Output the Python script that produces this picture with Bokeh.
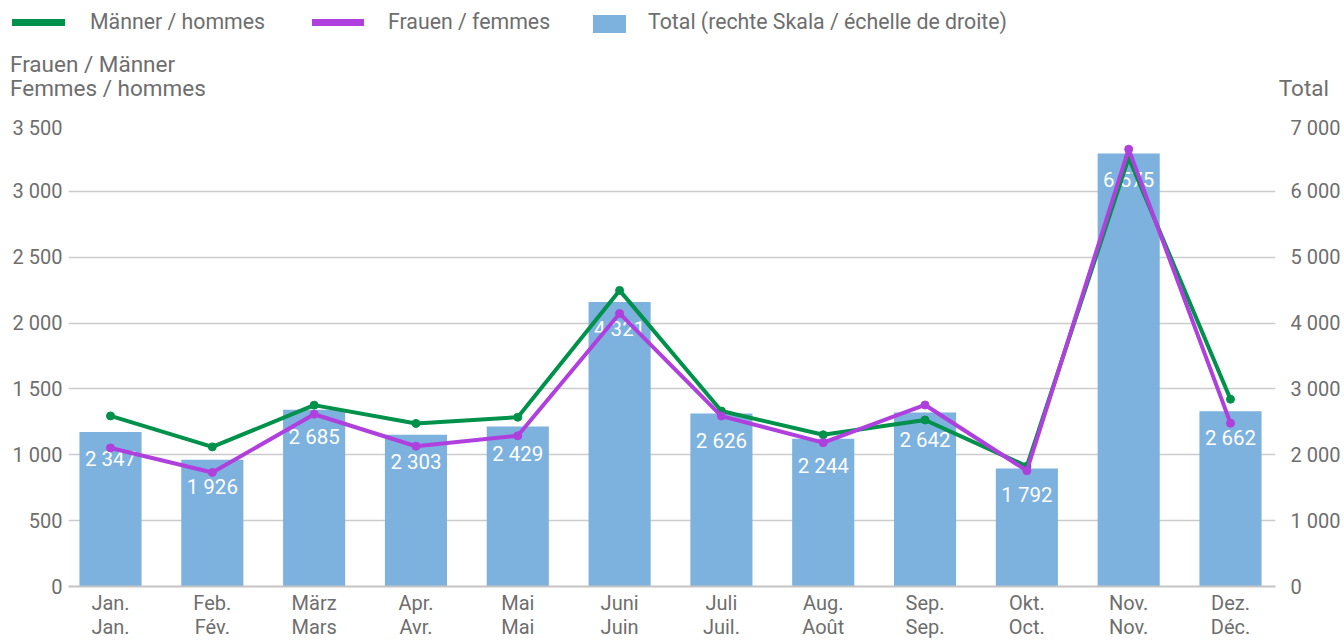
from bokeh.plotting import figure
from bokeh.layouts import column
from bokeh.models import Range1d, LinearAxis, FixedTicker, ColumnDataSource, Div
from bokeh.core.properties import value
from bokeh.embed import file_html
from bokeh.resources import INLINE

# ---- data ----
months_de = ["Jan.", "Feb.", "März", "Apr.", "Mai", "Juni",
             "Juli", "Aug.", "Sep.", "Okt.", "Nov.", "Dez."]
months_fr = ["Jan.", "Fév.", "Mars", "Avr.", "Mai", "Juin",
             "Juil.", "Août", "Sep.", "Oct.", "Nov.", "Déc."]
maenner = [1295, 1060, 1377, 1238, 1285, 2248, 1332, 1152, 1264, 913, 3255, 1422]
frauen = [1052, 866, 1308, 1065, 1144, 2073, 1294, 1092, 1378, 879, 3320, 1240]
total = [2347, 1926, 2685, 2303, 2429, 4321, 2626, 2244, 2642, 1792, 6575, 2662]
left_ticks = [0, 500, 1000, 1500, 2000, 2500, 3000, 3500]
left_tick_labels = ["0", "500", "1 000", "1 500", "2 000", "2 500", "3 000", "3 500"]
right_ticks = [0, 1000, 2000, 3000, 4000, 5000, 6000, 7000]
right_tick_labels = ["0", "1 000", "2 000", "3 000", "4 000", "5 000", "6 000", "7 000"]
legend_labels = ["Männer / hommes", "Frauen / femmes", "Total (rechte Skala / échelle de droite)"]
left_title = ["Frauen / Männer", "Femmes / hommes"]
right_title = "Total"

FONT = "Roboto"
GRAY = "#6e6e6e"
GREEN = "#00914a"
PURPLE = "#b040dd"
BLUE = "#7db1de"

W = 1344
HH = 115            # header height
H = 641 - HH        # main figure height
FL, FR = 68, 1275   # frame left / right (page px)

# ---------------- header (legend + axis titles) ----------------
def txt(s, left=None, right=None, cy=0, size=20):
    pos = f"left:{left}px;" if left is not None else f"right:{right}px;"
    return (f'<span style="position:absolute;{pos}top:{cy-13}px;height:26px;'
            f'line-height:26px;font-size:{size}px;color:{GRAY};white-space:nowrap;">{s}</span>')

def box(left, top, w, h, color):
    return (f'<span style="position:absolute;left:{left}px;top:{top}px;width:{w}px;'
            f'height:{h}px;background:{color};"></span>')

html = (f'<div style="position:relative;width:{W}px;height:{HH}px;margin:0;padding:0;'
        f'font-family:{FONT};">'
        + box(12, 19, 53, 7, GREEN) + txt(legend_labels[0], left=90, cy=22, size=21.3)
        + box(312, 19, 52, 7, PURPLE) + txt(legend_labels[1], left=388, cy=22, size=21.3)
        + box(593, 15, 33, 18, BLUE) + txt(legend_labels[2], left=648, cy=22, size=21.3)
        + txt(left_title[0], left=10, cy=64, size=22.5)
        + txt(left_title[1], left=10, cy=88, size=22.5)
        + txt(right_title, right=15, cy=88, size=22.5)
        + '</div>')
hd = Div(text=html, width=W, height=HH, margin=0)

# ---------------- main chart ----------------
xs = list(range(len(months_de)))
src = ColumnDataSource(dict(
    x=xs, m=maenner, f=frauen, t=total,
    tl=[f"{v:,}".replace(",", " ") for v in total],
))

p = figure(width=W, height=H, output_backend="svg", toolbar_location=None,
           x_range=Range1d(-0.4126, 11.442), y_range=Range1d(0, 3500),
           min_border_left=FL, min_border_right=W - FR, min_border_top=10,
           min_border_bottom=40, margin=0)
p.outline_line_color = None
p.background_fill_color = "white"
p.border_fill_color = "white"
p.extra_y_ranges = {"total": Range1d(0, 7000)}

p.vbar(x="x", top="t", width=0.61, source=src, y_range_name="total",
       fill_color=BLUE, line_color=None)
p.text(x="x", y="t", text="tl", source=src, y_range_name="total",
       text_color="white", text_font=value(FONT), text_font_size="20.5px",
       text_align="center", text_baseline="middle", y_offset=27)

p.line(x="x", y="m", source=src, line_color=GREEN, line_width=4)
p.scatter(x="x", y="m", source=src, size=8, fill_color=GREEN, line_color=GREEN)
p.line(x="x", y="f", source=src, line_color=PURPLE, line_width=4)
p.scatter(x="x", y="f", source=src, size=8, fill_color=PURPLE, line_color=PURPLE)

p.xaxis.ticker = FixedTicker(ticks=xs)
p.xaxis.major_label_overrides = dict(zip(xs, months_de))
p.yaxis.ticker = FixedTicker(ticks=left_ticks)
p.yaxis.major_label_overrides = dict(zip(left_ticks, left_tick_labels))

xa2 = LinearAxis(ticker=FixedTicker(ticks=xs))
xa2.major_label_overrides = dict(zip(xs, months_fr))
p.add_layout(xa2, "below")

ra = LinearAxis(y_range_name="total", ticker=FixedTicker(ticks=right_ticks))
ra.major_label_overrides = dict(zip(right_ticks, right_tick_labels))
p.add_layout(ra, "right")

for ax in [p.xaxis[0], xa2, p.yaxis[0], ra]:
    ax.major_tick_line_color = None
    ax.minor_tick_line_color = None
    ax.major_tick_out = 0
    ax.major_tick_in = 0
    ax.major_label_text_font = FONT
    ax.major_label_text_font_size = "20px"
    ax.major_label_text_color = GRAY
    ax.axis_line_color = None

p.xaxis[0].axis_line_color = "#c4c4c4"
p.xaxis[0].axis_line_width = 2
p.xaxis[0].major_label_standoff = 4
xa2.major_label_standoff = -3
p.yaxis.major_label_standoff = 6
ra.major_label_standoff = 15

p.xgrid.grid_line_color = None
p.ygrid.grid_line_color = "#cccccc"
p.ygrid.grid_line_width = 1.5

layout = column(hd, p, spacing=0, margin=0)
open("out.html", "w").write(file_html(layout, INLINE))
